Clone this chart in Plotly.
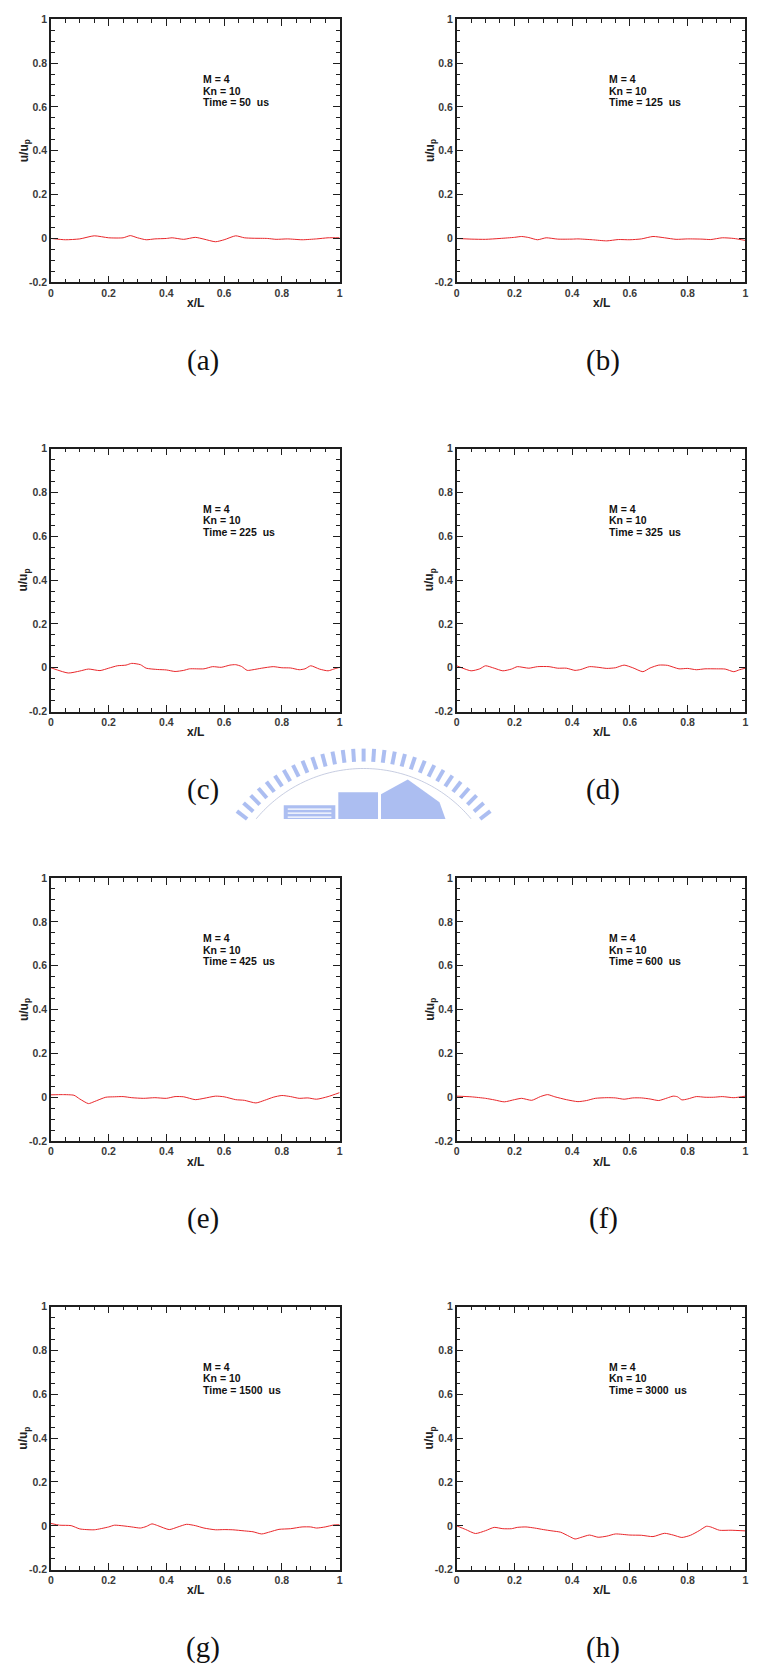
import math
import plotly.graph_objects as go

W, H = 757, 1672

# ---- u/u_p profiles along x/L for each sampling time ----
x_a = [0, 0.05, 0.1, 0.15, 0.2, 0.25, 0.275, 0.3, 0.33, 0.36, 0.4, 0.42, 0.46, 0.5, 0.53,
       0.57, 0.6, 0.64, 0.67, 0.7, 0.75, 0.78, 0.82, 0.87, 0.92, 0.96, 1.0]
u_a = [0, -0.006, -0.002, 0.012, 0.003, 0.003, 0.013, 0.003, -0.006, -0.002, 0.0, 0.003, -0.004,
       0.005, -0.003, -0.015, -0.006, 0.012, 0.003, 0.001, 0.0, -0.004, -0.002, -0.006, -0.002,
       0.003, 0.003]

x_b = [0, 0.05, 0.1, 0.15, 0.2, 0.225, 0.25, 0.28, 0.31, 0.35, 0.4, 0.42, 0.47, 0.52, 0.56,
       0.6, 0.64, 0.68, 0.72, 0.76, 0.8, 0.85, 0.88, 0.92, 0.96, 1.0]
u_b = [0, -0.003, -0.004, 0.0, 0.005, 0.009, 0.004, -0.006, 0.003, -0.003, -0.003, -0.002,
       -0.006, -0.011, -0.005, -0.006, -0.002, 0.009, 0.003, -0.004, -0.002, -0.003, -0.005,
       0.003, 0.0, -0.009]

x_c = [0, 0.06, 0.1, 0.13, 0.17, 0.2, 0.23, 0.26, 0.28, 0.31, 0.33, 0.37, 0.4, 0.43, 0.46,
       0.48, 0.53, 0.56, 0.59, 0.62, 0.64, 0.66, 0.68, 0.7, 0.73, 0.77, 0.8, 0.83, 0.86, 0.88,
       0.9, 0.93, 0.96, 0.98, 1.0]
u_c = [0, -0.024, -0.015, -0.006, -0.013, -0.002, 0.009, 0.012, 0.02, 0.014, -0.002, -0.008,
       -0.01, -0.017, -0.012, -0.005, -0.005, 0.005, 0.002, 0.012, 0.014, 0.006, -0.012, -0.009,
       -0.002, 0.005, 0.0, -0.001, -0.009, -0.005, 0.009, -0.006, -0.014, -0.006, 0.002]

x_d = [0, 0.05, 0.08, 0.1, 0.13, 0.16, 0.19, 0.21, 0.25, 0.28, 0.32, 0.35, 0.38, 0.41, 0.43,
       0.46, 0.49, 0.52, 0.55, 0.58, 0.61, 0.645, 0.67, 0.7, 0.73, 0.77, 0.8, 0.83, 0.86, 0.9,
       0.93, 0.96, 0.98, 1.0]
u_d = [0.009, -0.014, -0.005, 0.009, -0.002, -0.014, -0.006, 0.005, -0.002, 0.005, 0.005,
       -0.002, -0.002, -0.012, -0.008, 0.005, 0.002, -0.003, 0.0, 0.012, 0.0, -0.018, -0.001,
       0.012, 0.011, -0.005, -0.003, -0.009, -0.005, -0.005, -0.006, -0.018, -0.009, -0.002]

x_e = [0, 0.04, 0.08, 0.1, 0.13, 0.15, 0.19, 0.22, 0.25, 0.28, 0.32, 0.36, 0.4, 0.43, 0.46,
       0.5, 0.53, 0.57, 0.6, 0.64, 0.67, 0.71, 0.74, 0.77, 0.8, 0.83, 0.86, 0.89, 0.92, 0.96, 1.0]
u_e = [0.011, 0.012, 0.009, -0.008, -0.029, -0.02, 0.0, 0.002, 0.003, -0.002, -0.005, -0.002,
       -0.005, 0.003, 0.002, -0.011, -0.005, 0.005, 0.002, -0.011, -0.014, -0.026, -0.014, 0.0,
       0.008, 0.003, -0.005, -0.003, -0.009, 0.003, 0.021]

x_f = [0, 0.05, 0.1, 0.13, 0.165, 0.2, 0.225, 0.26, 0.29, 0.315, 0.34, 0.38, 0.42, 0.45, 0.48,
       0.52, 0.55, 0.58, 0.61, 0.64, 0.67, 0.7, 0.73, 0.75, 0.765, 0.78, 0.8, 0.83, 0.86, 0.89,
       0.92, 0.96, 1.0]
u_f = [0.005, 0.002, -0.005, -0.012, -0.021, -0.011, -0.005, -0.014, 0.003, 0.012, 0.002,
       -0.011, -0.02, -0.015, -0.005, -0.002, -0.003, -0.009, -0.003, -0.003, -0.008, -0.015,
       -0.003, 0.005, 0.002, -0.012, -0.008, 0.003, 0.0, 0.0, 0.003, -0.002, 0.005]

x_g = [0, 0.03, 0.07, 0.1, 0.15, 0.2, 0.22, 0.25, 0.28, 0.31, 0.33, 0.35, 0.37, 0.41, 0.44,
       0.47, 0.5, 0.53, 0.57, 0.6, 0.63, 0.67, 0.7, 0.73, 0.76, 0.79, 0.83, 0.87, 0.9, 0.92,
       0.95, 0.98, 1.0]
u_g = [0.011, 0.003, 0.001, -0.014, -0.018, -0.005, 0.003, 0.0, -0.005, -0.01, -0.003, 0.009,
       0.001, -0.017, -0.005, 0.007, 0.001, -0.01, -0.018, -0.017, -0.018, -0.023, -0.027,
       -0.037, -0.027, -0.016, -0.013, -0.005, -0.005, -0.01, -0.005, 0.004, 0.005]

x_h = [0, 0.03, 0.065, 0.1, 0.13, 0.16, 0.19, 0.21, 0.24, 0.27, 0.3, 0.33, 0.36, 0.39, 0.41,
       0.43, 0.46, 0.49, 0.52, 0.55, 0.6, 0.64, 0.68, 0.72, 0.75, 0.78, 0.81, 0.84, 0.865,
       0.88, 0.91, 0.95, 1.0]
u_h = [0, -0.016, -0.035, -0.022, -0.007, -0.013, -0.013, -0.007, -0.005, -0.01, -0.017,
       -0.023, -0.029, -0.048, -0.06, -0.053, -0.042, -0.052, -0.047, -0.037, -0.042, -0.043,
       -0.049, -0.034, -0.042, -0.053, -0.043, -0.022, -0.002, -0.005, -0.02, -0.02, -0.023]

panel_tags = ["(a)", "(b)", "(c)", "(d)", "(e)", "(f)", "(g)", "(h)"]
times_us = ["50", "125", "225", "325", "425", "600", "1500", "3000"]
xs = [x_a, x_b, x_c, x_d, x_e, x_f, x_g, x_h]
us = [u_a, u_b, u_c, u_d, u_e, u_f, u_g, u_h]

mach_text = "M = 4"
kn_text = "Kn = 10"

x_ticks = [0, 0.2, 0.4, 0.6, 0.8, 1.0]
x_ticktext = ["0", "0.2", "0.4", "0.6", "0.8", "1"]
y_ticks = [-0.2, 0, 0.2, 0.4, 0.6, 0.8, 1.0]
y_ticktext = ["-0.2", "0", "0.2", "0.4", "0.6", "0.8", "1"]

# ---- page geometry (pixels) ----
col_left = [48.3, 457.3]
plot_w = 291.0
row_top = [13.3, 445.7, 878.3, 1310.0]
plot_h = 265.0
tag_x = [201.7, 605.0]
tag_y0, row_step = 356.7, 432.2

SANS = "Liberation Sans, Arial, sans-serif"
SERIF = "Liberation Serif, Times New Roman, serif"
FRAME = "#1e1e1e"
LINE_RED = "#e8262a"


def px_x(px):
    return px / W


def px_y(py):
    return 1 - py / H


fig = go.Figure()
layout = dict(
    width=W, height=H,
    margin=dict(l=0, r=0, t=0, b=0),
    paper_bgcolor="white", plot_bgcolor="white",
    showlegend=False,
    annotations=[], shapes=[],
)

for i in range(8):
    k = i + 1
    row, col = divmod(i, 2)
    xn = "x" if k == 1 else f"x{k}"
    yn = "y" if k == 1 else f"y{k}"
    x0 = col_left[col]
    y0 = row_top[row]
    common = dict(
        showline=True, linecolor=FRAME, linewidth=1.5, mirror="allticks",
        ticks="inside", ticklen=7, tickwidth=1.2, tickcolor=FRAME,
        showgrid=False, zeroline=False, tickmode="array",
        tickfont=dict(family=SANS, size=10.5, color="#3a3a3a", weight="bold"),
    )
    layout["xaxis" if k == 1 else f"xaxis{k}"] = dict(
        common,
        domain=[px_x(x0), px_x(x0 + plot_w)],
        anchor=yn, range=[0, 1],
        tickvals=x_ticks, ticktext=x_ticktext,
        minor=dict(tickmode="linear", tick0=0, dtick=0.05, ticks="inside", ticklen=4,
                   tickwidth=1, tickcolor=FRAME, showgrid=False),
    )
    layout["yaxis" if k == 1 else f"yaxis{k}"] = dict(
        common,
        domain=[px_y(y0 + plot_h), px_y(y0)],
        anchor=xn, range=[-0.2, 1],
        tickvals=y_ticks, ticktext=y_ticktext,
        minor=dict(tickmode="linear", tick0=0, dtick=0.05, ticks="inside", ticklen=4,
                   tickwidth=1, tickcolor=FRAME, showgrid=False),
    )

    fig.add_trace(go.Scatter(
        x=xs[i], y=us[i], xaxis=xn, yaxis=yn, mode="lines",
        line=dict(color=LINE_RED, width=1, shape="spline", smoothing=0.6),
        hoverinfo="skip",
    ))

    # parameter block inside the frame
    for text, yy in [(mach_text, 0.725), (kn_text, 0.673),
                     (f"Time = {times_us[i]}\u00a0 us", 0.621)]:
        layout["annotations"].append(dict(
            text=text, xref=xn, yref=yn, x=0.521, y=yy,
            xanchor="left", yanchor="middle", showarrow=False,
            font=dict(family=SANS, size=10.5, color="#111", weight="bold"),
        ))

    # axis titles
    layout["annotations"].append(dict(
        text="x/L", xref=f"{xn} domain", yref=f"{yn} domain",
        x=0.5, y=-(299.0 - 278.3) / plot_h, xanchor="center", yanchor="middle",
        showarrow=False, font=dict(family=SANS, size=12, color="#222", weight="bold"),
    ))
    layout["annotations"].append(dict(
        text="u/u<sub>p</sub>", xref=f"{xn} domain", yref=f"{yn} domain",
        x=-(48.3 - 21.7) / plot_w, y=0.5, xanchor="center", yanchor="middle",
        textangle=-90, showarrow=False,
        font=dict(family=SANS, size=12, color="#222", weight="bold"),
    ))

    # panel tag below each plot
    layout["annotations"].append(dict(
        text=panel_tags[i], xref="paper", yref="paper",
        x=px_x(tag_x[col]), y=px_y(tag_y0 + row_step * row),
        xanchor="center", yanchor="middle", showarrow=False,
        font=dict(family=SERIF, size=29, color="#111"),
    ))

# ---- faint institutional seal between the second and third rows ----
SEAL = "rgba(140,165,235,0.72)"
cx, cy = 363.5, 909.0
clip_y = 819.0
n_teeth = 33
for j in range(n_teeth):
    ang = math.radians(30 + 120 * j / (n_teeth - 1))
    r_in, r_out = 148.0, 161.0
    xa, ya = cx + r_in * math.cos(ang), cy - r_in * math.sin(ang)
    xb, yb = cx + r_out * math.cos(ang), cy - r_out * math.sin(ang)
    if ya > clip_y and yb > clip_y:
        continue
    if ya > clip_y:
        t = (clip_y - yb) / (ya - yb)
        xa, ya = xb + t * (xa - xb), clip_y
    layout["shapes"].append(dict(
        type="line", xref="paper", yref="paper", layer="below",
        x0=px_x(xa), y0=px_y(ya), x1=px_x(xb), y1=px_y(yb),
        line=dict(color=SEAL, width=4),
    ))

ring_pts = []
for j in range(121):
    ang = math.radians(20 + 140 * j / 120)
    px_, py_ = cx + 141 * math.cos(ang), cy - 141 * math.sin(ang)
    if py_ <= clip_y:
        ring_pts.append((px_x(px_), px_y(py_)))
if ring_pts:
    path = "M " + " L ".join(f"{a:.5f},{b:.5f}" for a, b in ring_pts)
    layout["shapes"].append(dict(
        type="path", xref="paper", yref="paper", layer="below", path=path,
        line=dict(color="rgba(180,188,215,0.75)", width=1),
    ))

blocks = [
    (283, 805, 335, 819),
    (338, 792, 378, 819),
]
for bx0, by0, bx1, by1 in blocks:
    layout["shapes"].append(dict(
        type="rect", xref="paper", yref="paper", layer="below",
        x0=px_x(bx0), y0=px_y(by1), x1=px_x(bx1), y1=px_y(by0),
        fillcolor=SEAL, line=dict(width=0),
    ))
for sy in (809, 813, 817):
    layout["shapes"].append(dict(
        type="line", xref="paper", yref="paper", layer="below",
        x0=px_x(287), y0=px_y(sy), x1=px_x(331), y1=px_y(sy),
        line=dict(color="white", width=1.2),
    ))
roof = [(381, 819), (381, 794), (408, 779), (440, 802), (446, 819)]
layout["shapes"].append(dict(
    type="path", xref="paper", yref="paper", layer="below",
    path="M " + " L ".join(f"{px_x(a):.5f},{px_y(b):.5f}" for a, b in roof) + " Z",
    fillcolor=SEAL, line=dict(width=0),
))

fig.update_layout(**layout)
fig.write_html("out.html")
